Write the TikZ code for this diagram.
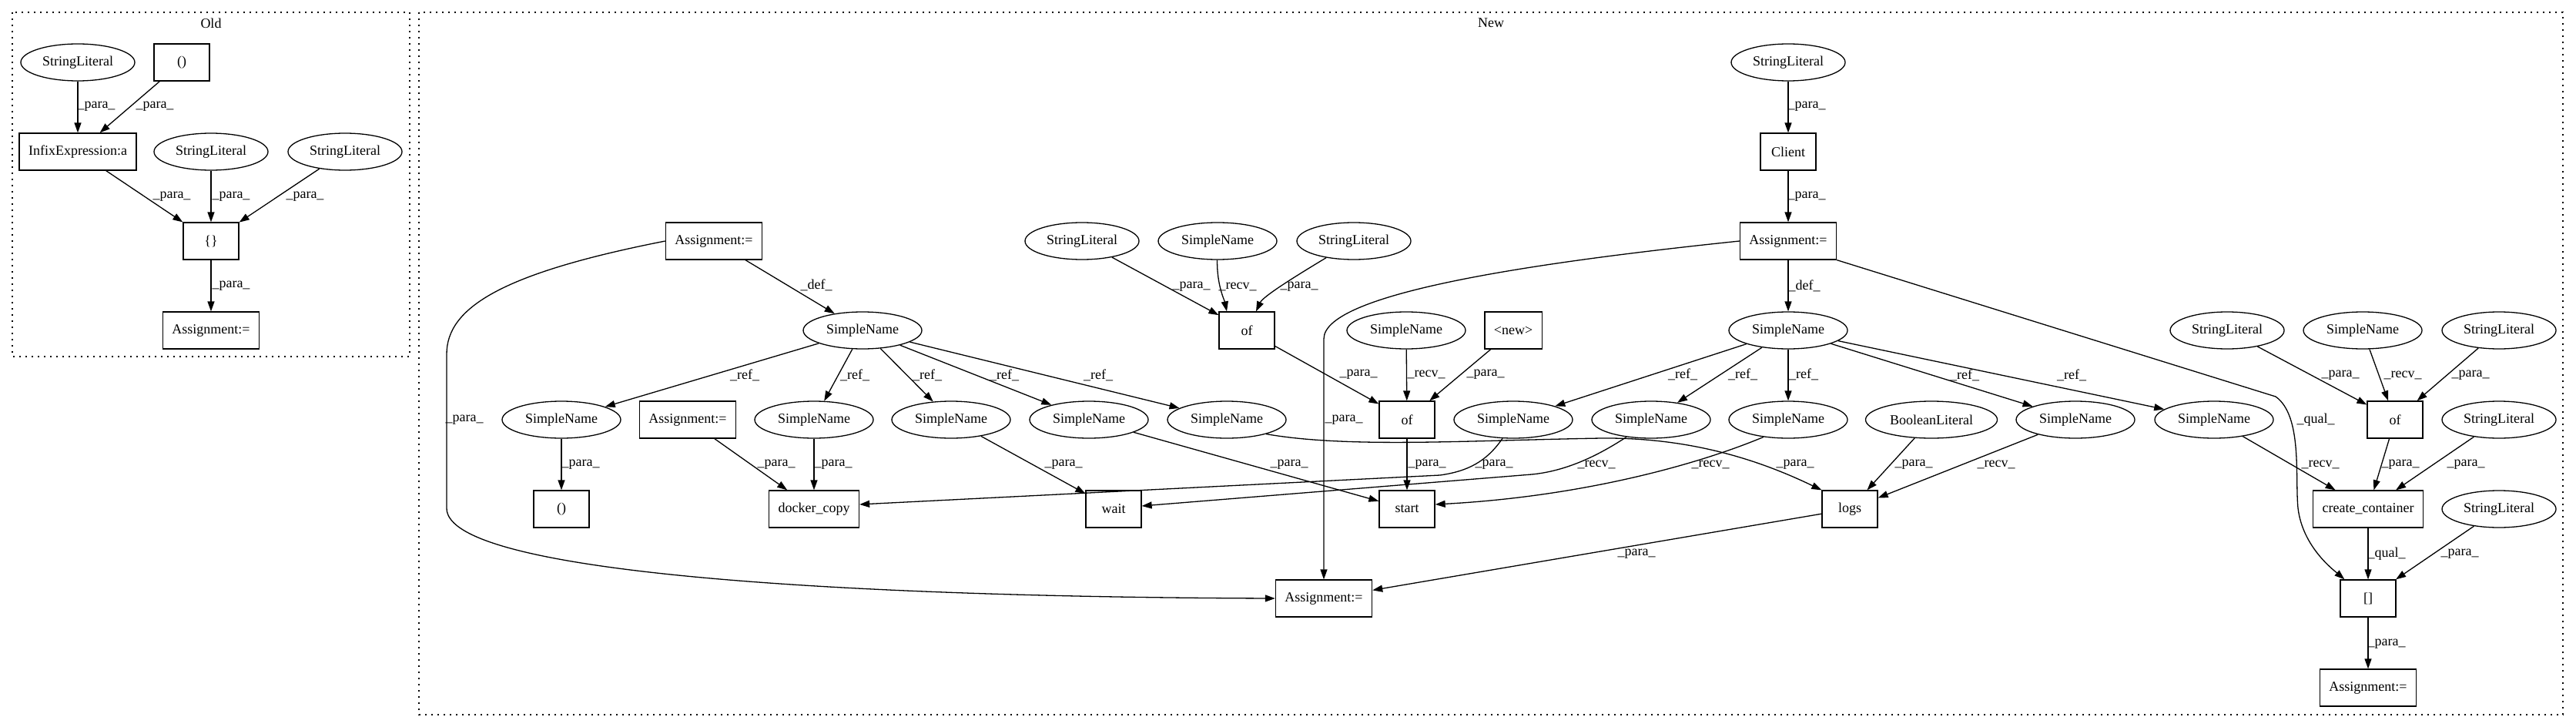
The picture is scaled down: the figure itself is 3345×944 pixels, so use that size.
\documentclass[tikz,border=0pt]{standalone}
\usepackage{fontspec}
\setmainfont{Liberation Serif}
\usetikzlibrary{arrows.meta,shapes.geometric}

\begin{document}
\begin{tikzpicture}[x=1pt,y=-1pt,font=\fontsize{18}{20}\selectfont,
  lit/.style={draw,ellipse,line width=1.3pt,minimum height=48pt,minimum width=148pt,inner sep=0pt},
  nam/.style={lit,minimum width=154pt},
  box/.style={draw,rectangle,line width=1.3pt,minimum height=48pt,minimum width=72pt,inner xsep=12pt},
  edge/.style={-{Triangle[length=13pt,width=9pt]},line width=1.3pt},
  lbl/.style={inner sep=0pt},
  cluster/.style={line width=1.3pt,dash pattern=on 2pt off 6pt}]
  \useasboundingbox (0,0) rectangle (3345,944);

  \draw[cluster] (16,16) rectangle (532,463);
  \node (oldLabel) at (274,30) {Old};
  \draw[cluster] (544,16) rectangle (3328,928);
  \node (newLabel) at (1936,30) {New};

  \node[lit] (oSL1)    at (101,81)  {StringLiteral};
  \node[box] (oPar)    at (236,81)  {()};
  \node[box] (oInfix)  at (101,197) {InfixExpression:a};
  \node[lit] (oSL2)    at (274,197) {StringLiteral};
  \node[lit] (oSL3)    at (448,197) {StringLiteral};
  \node[box] (oBrace)  at (274,313) {\{\}};
  \node[box] (oAssign) at (274,429) {Assignment:=};

  \draw[edge] (oSL1) -- (oInfix) node[lbl,at={(125,138)}] {\_para\_};
  \draw[edge] (oPar) -- (oInfix) node[lbl,at={(201,138)}] {\_para\_};
  \draw[edge] (oInfix) -- (oBrace) node[lbl,at={(223,255)}] {\_para\_};
  \draw[edge] (oSL2) -- (oBrace) node[lbl,at={(300,255)}] {\_para\_};
  \draw[edge] (oSL3) -- (oBrace) node[lbl,at={(396,255)}] {\_para\_};
  \draw[edge] (oBrace) -- (oAssign) node[lbl,at={(300,371)}] {\_para\_};

  \node[lit] (nSLtop)   at (2322,81)  {StringLiteral};
  \node[box] (nClient)  at (2322,197) {Client};
  \node[box] (nAssignL) at (927,313)  {Assignment:=};
  \node[lit] (nSLa)     at (1405,313) {StringLiteral};
  \node[nam] (nSNa)     at (1581,313) {SimpleName};
  \node[lit] (nSLb)     at (1758,313) {StringLiteral};
  \node[box] (nAssignC) at (2322,313) {Assignment:=};
  \node[nam] (nVarL)    at (1120,429) {SimpleName};
  \node[box] (nOfA)     at (1619,429) {of};
  \node[nam] (nSNb)     at (1826,429) {SimpleName};
  \node[box] (nNew)     at (1965,429) {<new>};
  \node[nam] (nVarR)    at (2322,429) {SimpleName};
  \node[lit] (nSLc)     at (2892,429) {StringLiteral};
  \node[nam] (nSNc)     at (3068,429) {SimpleName};
  \node[lit] (nSLd)     at (3245,429) {StringLiteral};
  \node[nam] (nRefA)    at (729,545)  {SimpleName};
  \node[box] (nAssignS) at (893,545)  {Assignment:=};
  \node[nam] (nRefB)    at (1057,545) {SimpleName};
  \node[nam] (nRefC)    at (1235,545) {SimpleName};
  \node[nam] (nRefD)    at (1414,545) {SimpleName};
  \node[nam] (nRefE)    at (1593,545) {SimpleName};
  \node[box] (nOfB)     at (1827,545) {of};
  \node[nam] (nRefF)    at (1965,545) {SimpleName};
  \node[nam] (nRefG)    at (2144,545) {SimpleName};
  \node[nam] (nRefH)    at (2322,545) {SimpleName};
  \node[lit,minimum width=171pt] (nBool) at (2508,545) {BooleanLiteral};
  \node[nam] (nRefI)    at (2695,545) {SimpleName};
  \node[nam] (nRefJ)    at (2875,545) {SimpleName};
  \node[box] (nOfC)     at (3110,545) {of};
  \node[lit] (nSLe)     at (3245,545) {StringLiteral};
  \node[box] (nParen)   at (729,661)  {()};
  \node[box] (nCopy)    at (1057,661) {docker\_copy};
  \node[box] (nWait)    at (1446,661) {wait};
  \node[box] (nStart)   at (1827,661) {start};
  \node[box] (nLogs)    at (2402,661) {logs};
  \node[box] (nCreate)  at (3075,661) {create\_container};
  \node[lit] (nSLf)     at (3245,661) {StringLiteral};
  \node[box] (nAssignB) at (1719,777) {Assignment:=};
  \node[box] (nIdx)     at (3075,777) {[]};
  \node[box] (nAssignR) at (3075,893) {Assignment:=};

  \draw[edge] (nSLtop) -- (nClient) node[lbl,at={(2346,138)}] {\_para\_};
  \draw[edge] (nClient) -- (nAssignC) node[lbl,at={(2346,255)}] {\_para\_};
  \draw[edge] (nAssignC) -- (nVarR) node[lbl,at={(2343,371)}] {\_def\_};
  \draw[edge] (nAssignC.west) .. controls (2000,340) and (1719,380) .. (1719,440) -- (nAssignB) node[lbl,at={(1745,545)}] {\_para\_};
  \draw[edge] (nAssignC.south east) -- (2955,515) .. controls (2990,540) and (2980,620) .. (2984,660) .. controls (2990,710) and (3030,740) .. ([xshift=6pt]nIdx.north west) node[lbl,at={(3007,545)}] {\_qual\_};
  \draw[edge] (nAssignL) -- (nVarL) node[lbl,at={(1060,370)}] {\_def\_};
  \draw[edge] (nAssignL.west) .. controls (650,355) and (580,400) .. (580,460) -- (580,660) .. controls (580,745) and (1100,775) .. (nAssignB.west) node[lbl,at={(603,545)}] {\_para\_};

  \draw[edge] (nVarL) -- (nRefA) node[lbl,at={(967,487)}] {\_ref\_};
  \draw[edge] (nVarL) -- (nRefB) node[lbl,at={(1110,487)}] {\_ref\_};
  \draw[edge] (nVarL) -- (nRefC) node[lbl,at={(1204,487)}] {\_ref\_};
  \draw[edge] (nVarL) -- (nRefD) node[lbl,at={(1304,487)}] {\_ref\_};
  \draw[edge] (nVarL) -- (nRefE) node[lbl,at={(1426,487)}] {\_ref\_};
  \draw[edge] (nRefA) -- (nParen) node[lbl,at={(754,603)}] {\_para\_};
  \draw[edge] (nAssignS) -- (nCopy) node[lbl,at={(1008,603)}] {\_para\_};
  \draw[edge] (nRefB) -- (nCopy) node[lbl,at={(1082,603)}] {\_para\_};
  \draw[edge] (nRefC) -- (nWait) node[lbl,at={(1381,603)}] {\_para\_};
  \draw[edge] (nRefD) -- (nStart) node[lbl,at={(1674,603)}] {\_para\_};
  \draw[edge] (nRefE.-20) .. controls (1750,582) and (1900,572) .. (2080,569) .. controls (2200,568) and (2290,600) .. (nLogs.north west) node[lbl,at={(2331,603)}] {\_para\_};

  \draw[edge] (nSLa) -- (nOfA) node[lbl,at={(1547,372)}] {\_para\_};
  \draw[edge] (nSNa) .. controls (1580,370) and (1590,390) .. ([xshift=-26pt]nOfA.north) node[lbl,at={(1607,372)}] {\_recv\_};
  \draw[edge] (nSLb) .. controls (1680,360) and (1640,385) .. ([xshift=12pt]nOfA.north) node[lbl,at={(1687,372)}] {\_para\_};
  \draw[edge] (nOfA) -- (nOfB) node[lbl,at={(1764,486)}] {\_para\_};
  \draw[edge] (nSNb) -- (nOfB) node[lbl,at={(1852,486)}] {\_recv\_};
  \draw[edge] (nNew) -- (nOfB) node[lbl,at={(1929,486)}] {\_para\_};
  \draw[edge] (nOfB) -- (nStart) node[lbl,at={(1853,603)}] {\_para\_};

  \draw[edge] (nVarR) -- (nRefF) node[lbl,at={(2185,486)}] {\_ref\_};
  \draw[edge] (nVarR) -- (nRefG) node[lbl,at={(2263,486)}] {\_ref\_};
  \draw[edge] (nVarR) -- (nRefH) node[lbl,at={(2342,486)}] {\_ref\_};
  \draw[edge] (nVarR) -- (nRefI) node[lbl,at={(2551,487)}] {\_ref\_};
  \draw[edge] (nVarR) -- (nRefJ) node[lbl,at={(2690,487)}] {\_ref\_};
  \draw[edge] (nRefF.-120) .. controls (1930,600) and (1905,612) .. (1870,617) -- ([yshift=6pt]nCopy.east) node[lbl,at={(1940,603)}] {\_para\_};
  \draw[edge] (nRefG.-145) .. controls (2070,595) and (2030,612) .. (1989,616) -- ([yshift=4pt]nWait.east) node[lbl,at={(2073,603)}] {\_recv\_};
  \draw[edge] (nRefH.-145) .. controls (2200,605) and (2050,645) .. ([yshift=6pt]nStart.east) node[lbl,at={(2221,603)}] {\_recv\_};
  \draw[edge] (nBool) -- (nLogs) node[lbl,at={(2485,603)}] {\_para\_};
  \draw[edge] (nRefI) -- (nLogs) node[lbl,at={(2592,603)}] {\_recv\_};
  \draw[edge] (nLogs) -- (nAssignB) node[lbl,at={(2125,719)}] {\_para\_};

  \draw[edge] (nSLc) -- (nOfC) node[lbl,at={(3039,487)}] {\_para\_};
  \draw[edge] (nSNc) -- (nOfC) node[lbl,at={(3120,487)}] {\_recv\_};
  \draw[edge] (nSLd) -- (nOfC) node[lbl,at={(3208,487)}] {\_para\_};
  \draw[edge] (nRefJ) -- (nCreate) node[lbl,at={(3013,603)}] {\_recv\_};
  \draw[edge] (nOfC) -- (nCreate) node[lbl,at={(3117,603)}] {\_para\_};
  \draw[edge] (nSLe) -- (nCreate) node[lbl,at={(3202,603)}] {\_para\_};
  \draw[edge] (nCreate) -- (nIdx) node[lbl,at={(3099,719)}] {\_qual\_};
  \draw[edge] (nSLf) -- (nIdx) node[lbl,at={(3194,719)}] {\_para\_};
  \draw[edge] (nIdx) -- (nAssignR) node[lbl,at={(3099,836)}] {\_para\_};
\end{tikzpicture}
\end{document}
